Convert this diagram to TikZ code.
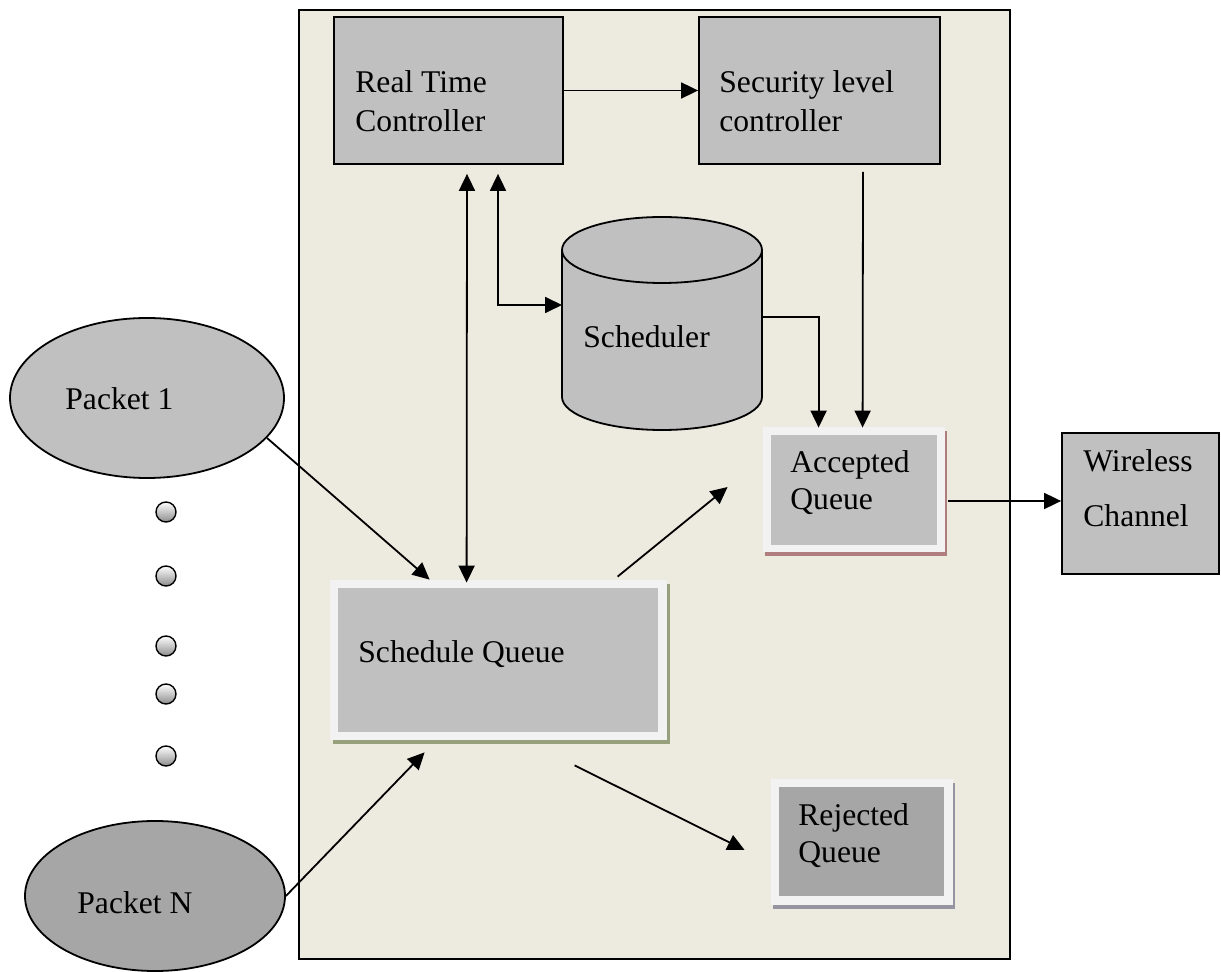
\documentclass[tikz,border=0pt]{standalone}
\usepackage{fontspec}
\setmainfont{Liberation Serif}
\usetikzlibrary{shapes.geometric,arrows.meta,calc,shadows}
\definecolor{panel}{RGB}{237,234,224}
\definecolor{boxgray}{RGB}{192,192,192}
\definecolor{boxdark}{RGB}{166,166,166}
\definecolor{rim}{RGB}{242,242,242}
\definecolor{shgreen}{RGB}{150,160,125}
\definecolor{shred}{RGB}{175,125,125}
\definecolor{shgray}{RGB}{150,148,160}

\begin{document}
\begin{tikzpicture}[x=0.5pt,y=-0.5pt,
  every node/.style={font=\fontsize{15.8}{19}\selectfont},
  box/.style={rectangle, draw=black, line width=0.9pt, fill=boxgray, inner sep=0},
  qframe/.style={rectangle, fill=rim, inner sep=0},
  lbl/.style={anchor=base west, inner sep=0},
  arr/.style={line width=0.9pt, -{Triangle[length=8.5pt,width=8pt]}},
  biarr/.style={line width=0.9pt, {Triangle[length=8.5pt,width=8pt]}-{Triangle[length=8.5pt,width=8pt]}},
  pkt/.style={ellipse, draw=black, line width=0.9pt, inner sep=0},
  dotc/.style={circle, draw=black, line width=0.7pt, minimum size=10pt, inner sep=0,
               top color=white, bottom color=black!45}
]
\useasboundingbox (0,0) rectangle (1221,972);

% system panel
\node[rectangle, draw=black, line width=0.9pt, fill=panel, minimum width=355.5pt,
      minimum height=474.5pt, inner sep=0] (panel) at (654.5,484.5) {};

% controllers
\node[box, minimum width=114.5pt, minimum height=73.5pt] (rtc) at (448.5,90.5) {};
\node[lbl] (rtc1) at (355,93) {Real Time};
\node[lbl] (rtc2) at (355,132) {Controller};

\node[box, minimum width=120.5pt, minimum height=73.5pt] (slc) at (819.5,90.5) {};
\node[lbl] (slc1) at (719,93) {Security level};
\node[lbl] (slc2) at (719,132) {controller};

% scheduler cylinder
\fill[boxgray] (562,250) -- (562,397) arc[start angle=180,end angle=0,x radius=100,y radius=33]
  -- (762,250) arc[start angle=0,end angle=-180,x radius=100,y radius=33] -- cycle;
\draw[line width=0.9pt] (562,250) -- (562,397) arc[start angle=180,end angle=0,x radius=100,y radius=33]
  -- (762,250);
\draw[line width=0.9pt] (662,250) ellipse[x radius=100,y radius=33];
\node[inner sep=0, minimum width=100pt, minimum height=106pt] (sch) at (662,323) {};
\node[lbl] (schl) at (583,348) {Scheduler};
\coordinate (schin) at (562,305);
\coordinate (schout) at (762,317);

% queues
\node[qframe, minimum width=168.5pt, minimum height=80pt,
      drop shadow={shadow xshift=1.5pt, shadow yshift=-2pt, fill=shgreen, opacity=1}] (sq) at (498.5,660) {};
\fill[boxgray] ($(sq.north west)+(8,8)$) rectangle ($(sq.south east)+(-9,-8)$);
\node[lbl] (sql) at (358,662) {Schedule Queue};

\node[qframe, minimum width=91pt, minimum height=62.5pt,
      drop shadow={shadow xshift=1.2pt, shadow yshift=-2pt, fill=shred, opacity=1}] (ac) at (854,489.5) {};
\fill[boxgray] ($(ac.north west)+(8,8)$) rectangle ($(ac.south east)+(-8,-7)$);
\node[lbl] (ac1) at (790,473) {Accepted};
\node[lbl] (ac2) at (790,510) {Queue};

\node[qframe, minimum width=91pt, minimum height=63pt,
      drop shadow={shadow xshift=1.2pt, shadow yshift=-2pt, fill=shgray, opacity=1}] (rq) at (862,842) {};
\fill[boxdark] ($(rq.north west)+(8,8)$) rectangle ($(rq.south east)+(-9,-9)$);
\node[lbl] (rq1) at (798,825) {Rejected};
\node[lbl] (rq2) at (798,862) {Queue};

% wireless channel
\node[box, minimum width=78.5pt, minimum height=70.5pt] (wc) at (1140.5,503.5) {};
\node[lbl] (wc1) at (1083,472) {Wireless};
\node[lbl] (wc2) at (1083,527) {Channel};

% packets
\node[pkt, fill=boxgray, minimum width=137pt, minimum height=80pt] (p1) at (147,398) {};
\node[lbl] (p1l) at (65,410) {Packet 1};
\node[pkt, fill=boxdark, minimum width=130pt, minimum height=75pt] (pn) at (155,896) {};
\node[lbl] (pnl) at (77,913) {Packet N};

\node[dotc] (d1) at (166,512) {};
\node[dotc] (d2) at (166,576) {};
\node[dotc] (d3) at (166,646) {};
\node[dotc] (d4) at (166,694) {};
\node[dotc] (d5) at (166,756) {};

% connectors
\draw[arr] (rtc.east) -- (slc.west);
\draw[biarr] ($(rtc.south)+(18.5,9)$) -- ($(sq.north west)+(137,3)$);
\draw[biarr] ($(rtc.south)+(49.5,9)$) |- (schin);
\draw[arr] (schout) -| ($(ac.north west)+(56,1)$);
\draw[arr] ($(slc.south)+(43.5,7)$) -- ($(ac.north west)+(100,1)$);
\draw[arr] ($(ac.east)+(3,11.5)$) -- ($(wc.west)+(0,-2.5)$);
\draw[arr] ($(p1.center)+(120,40)$) -- ($(sq.north west)+(100,0)$);
\draw[arr] (pn.east) -- ($(sq.south west)+(95,12)$);
\draw[arr] ($(sq.north west)+(288,-3)$) -- ($(ac.west)+(-35,-2.5)$);
\draw[arr] ($(sq.south west)+(245,25)$) -- ($(rq.west)+(-26,8)$);
\end{tikzpicture}
\end{document}
